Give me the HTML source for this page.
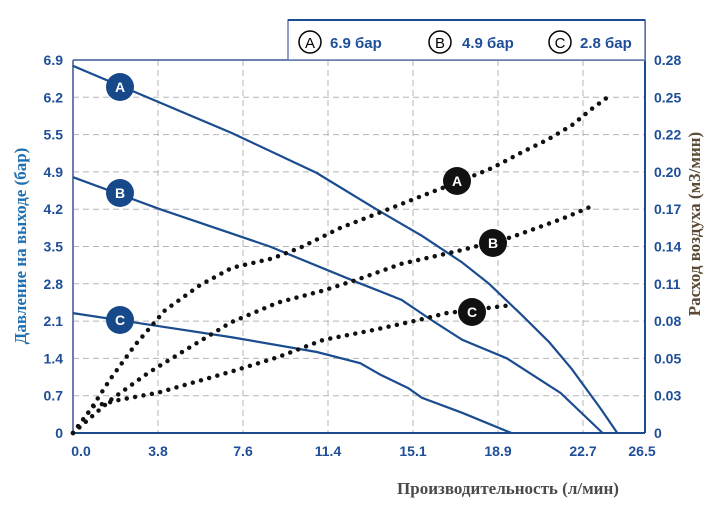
<!DOCTYPE html>
<html><head><meta charset="utf-8"><style>
body{margin:0;background:#fff;}
svg{display:block;font-family:"Liberation Sans Narrow","Liberation Sans",sans-serif;}
.tk{fill:#1f4e99;font-weight:bold;font-size:14px;}
</style></head><body>
<svg id="c" width="721" height="515" viewBox="0 0 721 515">
<g id="grid"></g>
<g id="marks"></g>
<g>
<rect x="288" y="20" width="357" height="40" fill="#fff" stroke="#6a7fb0" stroke-width="1.5"/>
<line x1="288" y1="20" x2="645" y2="20" stroke="#1a4c8f" stroke-width="2"/>
<g><circle cx="310" cy="42" r="11" fill="#fff" stroke="#000" stroke-width="1.5"/><text x="310" y="48" text-anchor="middle" font-size="15">A</text><text x="330" y="48" class="tk" style="font-size:15px">6.9 бар</text></g>
<g><circle cx="440" cy="42" r="11" fill="#fff" stroke="#000" stroke-width="1.5"/><text x="440" y="48" text-anchor="middle" font-size="15">B</text><text x="462" y="48" class="tk" style="font-size:15px">4.9 бар</text></g>
<g><circle cx="560" cy="42" r="11" fill="#fff" stroke="#000" stroke-width="1.5"/><text x="560" y="48" text-anchor="middle" font-size="15">C</text><text x="580" y="48" class="tk" style="font-size:15px">2.8 бар</text></g>
</g>
<text transform="translate(26,246) rotate(-90)" text-anchor="middle" font-family="Liberation Serif,serif" font-weight="bold" font-size="17" fill="#1f6fb0">Давление на выходе (бар)</text>
<text transform="translate(700,224) rotate(-90)" text-anchor="middle" font-family="Liberation Serif,serif" font-weight="bold" font-size="17" fill="#5a4a36">Расход воздуха (м3/мин)</text>
<text x="508" y="494" text-anchor="middle" font-family="Liberation Serif,serif" font-weight="bold" font-size="17" fill="#4a4a4a">Производительность (л/мин)</text>
</svg>
<script>
const xTicks=[0.0,3.8,7.6,11.4,15.1,18.9,22.7,26.5];
const pTicks=[0,0.7,1.4,2.1,2.8,3.5,4.2,4.9,5.5,6.2,6.9];
const qTicks=["0","0.03","0.05","0.08","0.11","0.14","0.17","0.20","0.22","0.25","0.28"];
const pressAx=[0,7.1,10.9,13.5,15.5,17.3,18.5,20.0,21.2,22.2,23.8,24.8];
const pressAy=[6.79,5.53,4.88,4.2,3.7,3.2,2.8,2.2,1.7,1.2,0.45,0];
const pressBx=[0,3.89,8.8,12.83,14.6,16.0,17.3,19.3,21.7,23.9];
const pressBy=[4.8,4.2,3.5,2.8,2.5,2.1,1.75,1.4,0.75,0];
const pressCx=[0,7.06,10.9,12.8,13.7,14.9,15.5,17.3,19.5];
const pressCy=[2.25,1.8,1.52,1.31,1.09,0.84,0.66,0.38,0];
const flowAx=[0,0.76,1.65,2.77,4.11,5.68,7.11,8.9,10.15,11.94,13.73,15.5,17.2,18.65,20.0,21.1,22.2,23.2,24.2];
const flowAy=[0,0.017,0.040,0.066,0.092,0.111,0.124,0.131,0.139,0.154,0.166,0.178,0.189,0.199,0.211,0.220,0.231,0.243,0.252];
const flowBx=[0,1.7,3.35,5.0,7.06,9.17,11.2,12.65,14.6,17.2,19.5,21.8,23.2];
const flowBy=[0,0.025,0.045,0.062,0.083,0.098,0.107,0.115,0.127,0.137,0.147,0.161,0.170];
const flowCx=[0,0.89,2.1,3.75,5.4,7.06,9.17,11.2,13.3,15.4,16.6,19.5];
const flowCy=[0,0.020,0.025,0.030,0.038,0.046,0.057,0.070,0.077,0.085,0.090,0.096];

const L=73,R=645,B=433,T=60,STEP=37.3;
function xPos(i){return i<7?L+i*85:R;}
function xs(v){for(let i=0;i<xTicks.length-1;i++){if(v<=xTicks[i+1]||i==xTicks.length-2){return xPos(i)+(v-xTicks[i])/(xTicks[i+1]-xTicks[i])*(xPos(i+1)-xPos(i));}}}
function yp(v){for(let i=0;i<pTicks.length-1;i++){if(v<=pTicks[i+1]||i==pTicks.length-2){return B-(i+(v-pTicks[i])/(pTicks[i+1]-pTicks[i]))*STEP;}}}
function yq(v){return B-v/0.028*STEP;}
const NS="http://www.w3.org/2000/svg";
function mk(tag,attrs,parent){const e=document.createElementNS(NS,tag);for(const k in attrs)e.setAttribute(k,attrs[k]);parent.appendChild(e);return e;}
const g=document.getElementById('grid'),m=document.getElementById('marks');
for(let i=1;i<7;i++){const l=mk('line',{x1:xPos(i),x2:xPos(i),y1:T,y2:B,stroke:'#b5b5b5','stroke-dasharray':'6 4'},g);

}
for(let i=1;i<10;i++){const l=mk('line',{x1:L,x2:R,y1:B-i*STEP,y2:B-i*STEP,stroke:'#b5b5b5','stroke-dasharray':'6 4'},g);

}
let a=mk('line',{x1:L,x2:L,y1:T,y2:B,stroke:'#6a7fb0','stroke-width':2},g);


a=mk('line',{x1:L,x2:R,y1:T,y2:T,stroke:'#6a7fb0','stroke-width':2},g);


a=mk('line',{x1:L,x2:R,y1:B,y2:B,stroke:'#1a4c8f','stroke-width':2},g);


a=mk('line',{x1:R,x2:R,y1:20,y2:B,stroke:'#1a4c8f','stroke-width':2},g);


xTicks.forEach((v,i)=>{const t=mk('text',{x:xPos(i)+(i==0?8:(i==7?-3:0)),y:456,'text-anchor':'middle',class:'tk'},g);t.textContent=v.toFixed(1);

});
pTicks.forEach((v,i)=>{const t=mk('text',{x:63,y:B-i*STEP+5,'text-anchor':'end',class:'tk'},g);t.textContent=v===0?'0':v.toFixed(1);

});
qTicks.forEach((v,i)=>{const t=mk('text',{x:654,y:B-i*STEP+5,class:'tk'},g);t.textContent=v;

});
function pts(xa,ya,yf){return xa.map((x,i)=>xs(x).toFixed(1)+','+yf(ya[i]).toFixed(1)).join(' ');}
const press=[[pressAx,pressAy,'a'],[pressBx,pressBy,'b'],[pressCx,pressCy,'c']];
press.forEach(s=>{const p=mk('polyline',{points:pts(s[0],s[1],yp),fill:'none',stroke:'#1a4c8f','stroke-width':2.2},m);

});
const flow=[[flowAx,flowAy,'a'],[flowBx,flowBy,'b'],[flowCx,flowCy,'c']];
flow.forEach(s=>{const p=mk('polyline',{points:pts(s[0],s[1],yq),fill:'none',stroke:'#111','stroke-width':4.5,'stroke-linecap':'round','stroke-dasharray':'0 8.5'},m);

});
function marker(x,y,txt,fill,name){const gg=mk('g',{},m);


mk('circle',{cx:x,cy:y,r:14,fill:fill},gg);const t=mk('text',{x:x,y:y+5,'text-anchor':'middle',fill:'#fff','font-weight':'bold','font-size':14},gg);t.textContent=txt;}
marker(120,87,'A','#16488a','label-pressure-a');
marker(120,193,'B','#16488a','label-pressure-b');
marker(120,320,'C','#16488a','label-pressure-c');
marker(457,181,'A','#111','label-flow-a');
marker(493,243,'B','#111','label-flow-b');
marker(472,312,'C','#111','label-flow-c');
</script>
</body></html>
